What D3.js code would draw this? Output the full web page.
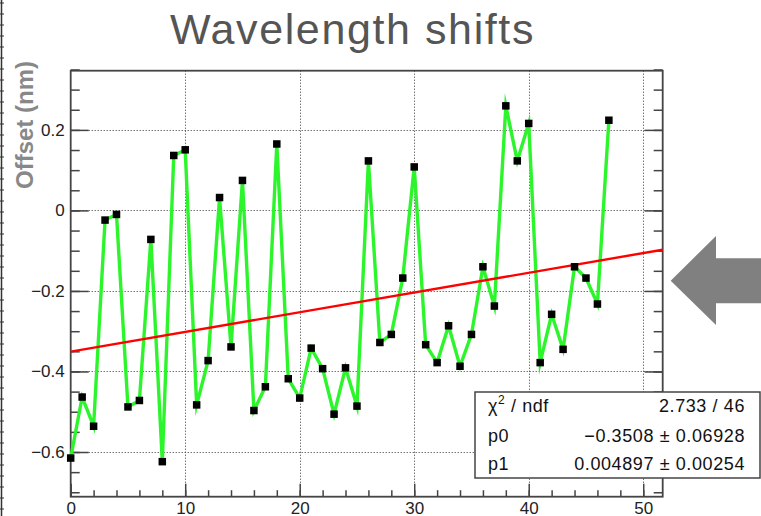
<!DOCTYPE html>
<html>
<head>
<meta charset="utf-8">
<script src="https://cdn.jsdelivr.net/npm/d3@7"></script>
<style>
  html, body { margin: 0; padding: 0; background: #fff; }
  svg { display: block; font-family: "Liberation Sans", Arial, Helvetica, sans-serif; }
</style>
</head>
<body>
<svg id="chart" width="761" height="516"></svg>
<script>
// ---- data ----
const pointIndex = d3.range(0, 48);
const offsets = [
  -0.615, -0.4635, -0.536, -0.024, -0.010, -0.488, -0.472, -0.072,
  -0.624, 0.1365, 0.1505, -0.483, -0.373, 0.032, -0.339, 0.0745,
  -0.497, -0.438, 0.165, -0.418, -0.466, -0.342, -0.393, -0.506,
  -0.391, -0.486, 0.123, -0.328, -0.308, -0.168, 0.108, -0.3335,
  -0.378, -0.2865, -0.387, -0.308, -0.140, -0.2375, 0.2597, 0.123,
  0.216, -0.378, -0.258, -0.345, -0.140, -0.168, -0.2325, 0.224
];
const fitP0 = -0.3508;
const fitP1 = 0.004897;
const xDomain = [0, 51.7];
const yDomain = [-0.711, 0.347];
const xMajorTicks = [0, 10, 20, 30, 40, 50];
const yMajorTicks = [-0.6, -0.4, -0.2, 0, 0.2];
const statsRows = [
  ["χ2 / ndf", "2.733 / 46"],
  ["p0", "\u22120.3508 \u00b1 0.06928"],
  ["p1", "0.004897 \u00b1 0.00254"]
];
const titleText = "Wavelength shifts";
const yTitleText = "Offset (nm)";

// ---- layout ----
const frame = { left: 70.7, right: 662.7, top: 70.7, bottom: 496.7 };
const svg = d3.select("#chart");
const x = d3.scaleLinear().domain(xDomain).range([frame.left, frame.right]);
const y = d3.scaleLinear().domain(yDomain).range([frame.bottom, frame.top]);

const xMinor = d3.range(0, 52, 2);
const yMinor = d3.range(-0.70, 0.3501, 0.05).map(v => Math.round(v * 100) / 100);

// left strip (neighbouring pad edge)
const strip = svg.append("g");
strip.append("line").attr("x1", 1.5).attr("x2", 1.5).attr("y1", 0).attr("y2", 516)
  .attr("stroke", "#333").attr("stroke-width", 1.5);
strip.selectAll("line.t").data(d3.range(3, 516, 11)).join("line").attr("class", "t")
  .attr("x1", 0).attr("x2", 4).attr("y1", d => d).attr("y2", d => d)
  .attr("stroke", "#333").attr("stroke-width", 1);

// grid
const grid = svg.append("g").attr("stroke", "#333").attr("stroke-width", 1)
  .attr("stroke-dasharray", "1,2");
grid.selectAll("line.gx").data(xMajorTicks.filter(v => v > 0)).join("line")
  .attr("x1", d => Math.round(x(d)) + 0.5).attr("x2", d => Math.round(x(d)) + 0.5)
  .attr("y1", frame.top).attr("y2", frame.bottom);
grid.selectAll("line.gy").data(yMajorTicks).join("line")
  .attr("y1", d => Math.round(y(d)) + 0.5).attr("y2", d => Math.round(y(d)) + 0.5)
  .attr("x1", frame.left).attr("x2", frame.right);

// axes (ticks pointing inward)
const axisColor = "#444";
function styleAxis(g) {
  g.select(".domain").remove();
  g.selectAll(".tick line").attr("stroke", axisColor).attr("stroke-width", 1.5);
  g.selectAll(".tick text").attr("fill", "#222").attr("font-size", 17)
    .attr("font-family", "Liberation Sans, Arial, sans-serif");
}
// y minor
svg.append("g").attr("transform", `translate(${frame.left},0)`)
  .call(d3.axisLeft(y).tickValues(yMinor).tickSize(-9).tickFormat(""))
  .call(styleAxis);
svg.append("g").attr("transform", `translate(${frame.right},0)`)
  .call(d3.axisRight(y).tickValues(yMinor).tickSize(-9).tickFormat(""))
  .call(styleAxis);
// y major
svg.append("g").attr("transform", `translate(${frame.left},0)`)
  .call(d3.axisLeft(y).tickValues(yMajorTicks).tickSize(-18).tickPadding(6)
    .tickFormat(d => d === 0 ? "0" : d3.format(".1f")(d).replace("-", "\u2212")))
  .call(styleAxis);
svg.append("g").attr("transform", `translate(${frame.right},0)`)
  .call(d3.axisRight(y).tickValues(yMajorTicks).tickSize(-18).tickFormat(""))
  .call(styleAxis);
// x minor + major
svg.append("g").attr("transform", `translate(0,${frame.bottom})`)
  .call(d3.axisBottom(x).tickValues(xMinor).tickSize(-6.5).tickFormat(""))
  .call(styleAxis);
const xAx = svg.append("g").attr("transform", `translate(0,${frame.bottom})`)
  .call(d3.axisBottom(x).tickValues(xMajorTicks).tickSize(-13).tickPadding(5).tickFormat(d3.format("d")))
  .call(styleAxis);
xAx.selectAll(".tick text").attr("dy", null).attr("y", 17.5);

// frame
svg.append("rect").attr("x", frame.left).attr("y", frame.top)
  .attr("width", frame.right - frame.left).attr("height", frame.bottom - frame.top)
  .attr("fill", "none").attr("stroke", axisColor).attr("stroke-width", 1.8);

// data line
const pts = pointIndex.map((i, k) => [i, offsets[k]]);
const line = d3.line().x(d => x(d[0])).y(d => y(d[1]));
svg.append("path").datum(pts).attr("d", line)
  .attr("fill", "none").attr("stroke", "#2cf52c").attr("stroke-width", 3.4)
  .attr("stroke-linejoin", "miter").attr("stroke-miterlimit", 10);

// fit line
const fitPts = [xDomain[0], xDomain[1]].map(v => [v, fitP0 + fitP1 * v]);
svg.append("path").datum(fitPts).attr("d", line)
  .attr("fill", "none").attr("stroke", "#ff0000").attr("stroke-width", 2.4);

// markers
const ms = 7.5;
svg.append("g").selectAll("rect").data(pts).join("rect")
  .attr("x", d => x(d[0]) - ms / 2).attr("y", d => y(d[1]) - ms / 2)
  .attr("width", ms).attr("height", ms).attr("fill", "#000");

// title
svg.append("text").attr("x", 352.5).attr("y", 43.5).attr("text-anchor", "middle")
  .attr("font-size", 43).attr("letter-spacing", 1.6).attr("fill", "#555").text(titleText);

// y title
svg.append("text").attr("transform", "translate(33,125) rotate(-90)")
  .attr("text-anchor", "middle").attr("font-size", 24).attr("font-weight", "bold")
  .attr("fill", "#888").text(yTitleText);

// arrow
svg.append("polygon")
  .attr("points", "670.7,280.7 716,236 716,258.3 761,258.3 761,303.3 716,303.3 716,325")
  .attr("fill", "#808080");

// stats box
const box = svg.append("g");
box.append("rect").attr("x", 475).attr("y", 392).attr("width", 285).attr("height", 86)
  .attr("fill", "#fff").attr("stroke", axisColor).attr("stroke-width", 1.5);
const rowY = [412, 442, 470];
statsRows.forEach((r, i) => {
  const lt = box.append("text").attr("x", 488).attr("y", rowY[i]).attr("font-size", 18)
    .attr("letter-spacing", 0.6).attr("fill", "#111");
  if (i === 0) {
    lt.append("tspan").text("χ");
    lt.append("tspan").attr("font-size", 12).attr("dy", -8).text("2");
    lt.append("tspan").attr("dy", 8).text(" / ndf");
  } else {
    lt.text(r[0]);
  }
  box.append("text").attr("x", 745).attr("y", rowY[i]).attr("text-anchor", "end")
    .attr("font-size", 18).attr("letter-spacing", 0.6).attr("fill", "#111").text(r[1]);
});
</script>
</body>
</html>
